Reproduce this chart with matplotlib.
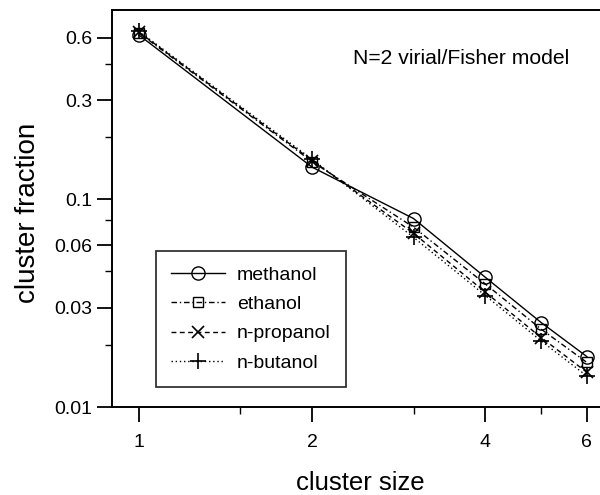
import matplotlib
matplotlib.use("Agg")
import matplotlib.pyplot as plt
from matplotlib.ticker import FixedLocator, FixedFormatter, NullFormatter

plt.rcParams['font.family'] = ['Liberation Sans', 'DejaVu Sans']

# ---------------- data ----------------
sizes = [1, 2, 3, 4, 5, 6]
methanol = [0.620, 0.143, 0.0809, 0.0421, 0.0255, 0.0175]
ethanol = [0.635, 0.152, 0.0735, 0.0391, 0.0237, 0.0164]
propanol = [0.640, 0.154, 0.0687, 0.0357, 0.0216, 0.0147]
butanol = [0.645, 0.156, 0.0657, 0.0344, 0.0208, 0.0141]

xticks = [1, 2, 4, 6]
xminor = [1.5, 3, 5]
yticks = [0.01, 0.03, 0.06, 0.1, 0.3, 0.6]
ylabels = ["0.01", "0.03", "0.06", "0.1", "0.3", "0.6"]
yminor = [0.02, 0.045, 0.08, 0.2, 0.45]

# ---------------- figure ----------------
fig = plt.figure(figsize=(6.0, 4.95), dpi=100)
ax = fig.add_axes([112 / 600, 88 / 495, 496 / 600, 397 / 495])

ax.plot(sizes, methanol, color='black', lw=1.0, ls='-', marker='o',
        ms=9.5, mfc='none', mec='black', mew=1.0, label='methanol')
ax.plot(sizes, ethanol, color='black', lw=1.0, ls=(0, (4, 2, 1, 2)), marker='s',
        ms=7.5, mfc='none', mec='black', mew=1.0, label='ethanol')
ax.plot(sizes, propanol, color='black', lw=1.0, ls=(0, (3.5, 2.5)), marker='x',
        ms=9, mec='black', mew=1.2, label='n-propanol')
ax.plot(sizes, butanol, color='black', lw=1.0, ls=(0, (1, 2)), marker='+',
        ms=11, mec='black', mew=1.2, label='n-butanol')

ax.set_xscale('log')
ax.set_yscale('log')
ax.set_xlim(0.898, 6.53)
ax.set_ylim(0.01, 0.818)

ax.xaxis.set_major_locator(FixedLocator(xticks))
ax.xaxis.set_major_formatter(FixedFormatter([str(v) for v in xticks]))
ax.xaxis.set_minor_locator(FixedLocator(xminor))
ax.xaxis.set_minor_formatter(NullFormatter())
ax.yaxis.set_major_locator(FixedLocator(yticks))
ax.yaxis.set_major_formatter(FixedFormatter(ylabels))
ax.yaxis.set_minor_locator(FixedLocator(yminor))
ax.yaxis.set_minor_formatter(NullFormatter())

ax.tick_params(which='major', direction='out', length=10.5, width=1.3,
               labelsize=14, pad=3.5, color='black')
ax.tick_params(axis='x', which='major', pad=9)
ax.tick_params(which='minor', direction='out', length=5, width=1.0)
for sp in ax.spines.values():
    sp.set_linewidth(1.4)

ax.set_xlabel('cluster size', fontsize=18.5, va='baseline')
ax.xaxis.set_label_coords(0.5, -0.21)
ax.set_ylabel('cluster fraction', fontsize=20, va='baseline')
ax.yaxis.set_label_coords(-0.155, 0.489)

ax.text(353 / 600, 1 - 59 / 495, 'N=2 virial/Fisher model', transform=fig.transFigure,
        fontsize=15.2, ha='left', va='center')

leg = ax.legend(loc='upper left', bbox_to_anchor=(155.7 / 600, 1 - 251 / 495),
                bbox_transform=fig.transFigure, borderaxespad=0, fancybox=False,
                frameon=True, fontsize=14, handlelength=2.8, handletextpad=0.6,
                labelspacing=0.6, borderpad=0.78)
leg.get_frame().set_edgecolor('black')
leg.get_frame().set_linewidth(1.3)

fig.savefig('out.png', dpi=100)
